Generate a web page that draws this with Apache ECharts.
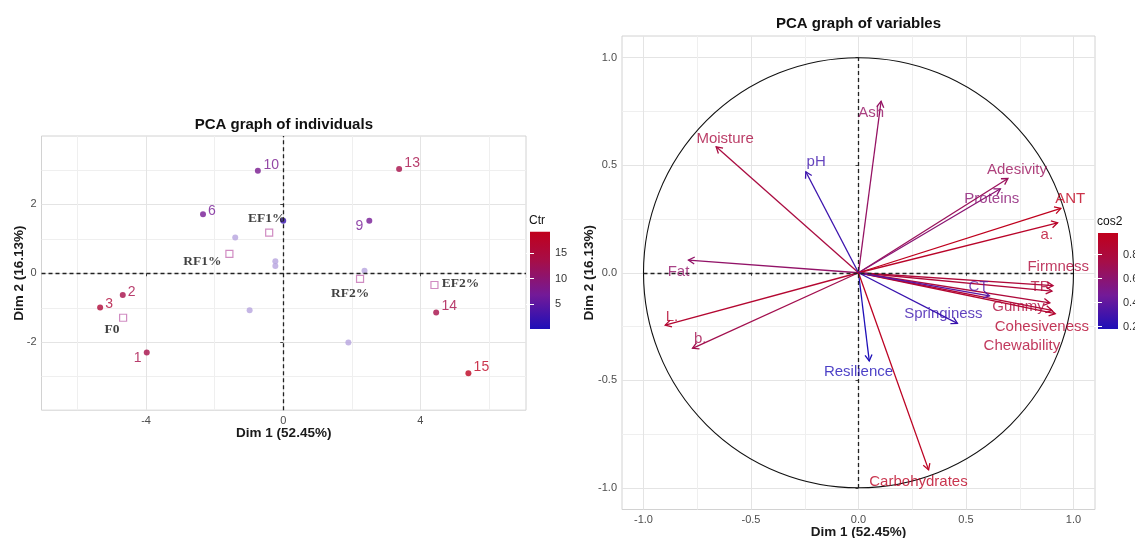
<!DOCTYPE html>
<html>
<head>
<meta charset="utf-8">
<script src="https://cdn.jsdelivr.net/npm/echarts@6/dist/echarts.min.js"></script>
<style>html,body{margin:0;padding:0;background:#fff}#c{width:1135px;height:538px}</style>
</head>
<body>
<div id="c"></div>
<script>
// ---------------- DATA ----------------
// Individuals (labelled, coloured by Ctr)
const indNames = ['1', '2', '3', '6', '9', '10', '13', '14', '15', ''];
const indX = [-3.98, -4.68, -5.34, -2.34, 2.51, -0.74, 3.38, 4.46, 5.40, 0.00];
const indY = [-2.30, -0.63, -0.99, 1.71, 1.52, 2.97, 3.02, -1.14, -2.90, 1.52];
const indCtr = [13.5, 13.5, 15.5, 7, 7, 7.5, 13.5, 13.5, 18.5, 2];
// Individuals drawn faint (no label)
const lightX = [-1.40, -0.23, -0.23, -0.98, 2.37, 1.90];
const lightY = [1.04, 0.35, 0.21, -1.07, 0.07, -2.01];
// Group centroids
const groupNames = ['F0', 'RF1%', 'EF1%', 'RF2%', 'EF2%'];
const groupX = [-4.67, -1.57, -0.41, 2.24, 4.41];
const groupY = [-1.29, 0.56, 1.18, -0.165, -0.34];
// Variables
const varNames = ['Moisture', 'pH', 'Fat', 'Ash', 'Adesivity', 'Proteins', 'ANT', 'a.', 'Firmness', 'TP',
  'Gummy', 'Cohesiveness', 'Chewability', 'CT', 'Springiness', 'Resilience', 'L.', 'b.', 'Carbohydrates'];
const varX = [-0.662, -0.245, -0.791, 0.105, 0.695, 0.660, 0.941, 0.926, 0.905, 0.900,
  0.890, 0.915, 0.900, 0.609, 0.460, 0.050, -0.899, -0.772, 0.326];
const varY = [0.585, 0.469, 0.059, 0.797, 0.438, 0.390, 0.299, 0.232, -0.060, -0.085,
  -0.140, -0.190, -0.175, -0.107, -0.235, -0.410, -0.243, -0.351, -0.916];
const varCos2 = [0.780, 0.280, 0.629, 0.646, 0.675, 0.588, 0.975, 0.911, 0.823, 0.817,
  0.812, 0.873, 0.841, 0.382, 0.267, 0.170, 0.867, 0.719, 0.945];
// Scales / tick labels
const indXTicks = [-4, 0, 4];
const indXMinor = [-6, -2, 2, 6];
const indYTicks = [-2, 0, 2];
const indYMinor = [-3, -1, 1, 3];
const varTicks = [-1, -0.5, 0, 0.5, 1];
const varMinor = [-0.75, -0.25, 0.25, 0.75];
const ctrTicks = [5, 10, 15];
const ctrRange = [0.1, 19.2];
const cosTicks = [0.2, 0.4, 0.6, 0.8];
const cosRange = [0.18, 0.98];
const circleRadius = 1;

// ---------------- LAYOUT / STYLE ----------------
const FONT = 'Liberation Sans, Arial, Helvetica, sans-serif';
const SERIF = 'Liberation Serif, Times New Roman, serif';
const gradStops = [[0, '#1e0fb8'], [0.35, '#731a98'], [0.7, '#a60e48'], [1, '#c0001c']];
function hex2rgb(h) { return [1, 3, 5].map(i => parseInt(h.substr(i, 2), 16)); }
function mix(a, b, t) {
  const A = hex2rgb(a), B = hex2rgb(b);
  return 'rgb(' + A.map((v, k) => Math.round(v + (B[k] - v) * t)).join(',') + ')';
}
function colorAt(v, range) {
  let t = (v - range[0]) / (range[1] - range[0]);
  t = Math.max(0, Math.min(1, t));
  for (let k = 1; k < gradStops.length; k++) {
    if (t <= gradStops[k][0]) {
      const s0 = gradStops[k - 1], s1 = gradStops[k];
      return mix(s0[1], s1[1], (t - s0[0]) / (s1[0] - s0[0]));
    }
  }
  return gradStops[gradStops.length - 1][1];
}
const indLabelOffset = { '1': [-9, 6], '2': [9, -3], '3': [9, -3], '6': [9, -3], '9': [-10, 5],
  '10': [13.5, -6], '13': [13, -6], '14': [13, -6], '15': [13, -6] };
const groupLabelOffset = { 'F0': [-11, 12], 'RF1%': [-27, 8], 'EF1%': [-2.5, -14], 'RF2%': [-10, 15], 'EF2%': [26, -1] };
const varLabelAt = {
  'Moisture': [-0.62, 0.624], 'pH': [-0.197, 0.515], 'Fat': [-0.837, 0.002], 'Ash': [0.059, 0.742],
  'Adesivity': [0.737, 0.48], 'Proteins': [0.62, 0.342], 'ANT': [0.985, 0.342], 'a.': [0.876, 0.178],
  'Firmness': [0.929, 0.028], 'TP': [0.845, -0.065], 'Gummy': [0.744, -0.158], 'Cohesiveness': [0.853, -0.251],
  'Chewability': [0.76, -0.34], 'CT': [0.558, -0.065], 'Springiness': [0.395, -0.193], 'Resilience': [0.0, -0.462],
  'L.': [-0.868, -0.204], 'b.': [-0.736, -0.305], 'Carbohydrates': [0.279, -0.97]
};

const tickLabel = { color: '#4d4d4d', fontSize: 11, fontFamily: FONT, margin: 5 };
const axisName = { fontWeight: 'bold', fontSize: 13.5, color: '#1a1a1a', fontFamily: FONT };
const majorGrid = { show: true, lineStyle: { color: '#e4e4e4', width: 1 } };
const minorGrid = { show: true, lineStyle: { color: '#efefef', width: 1 } };
const dashed = { color: '#222', type: [4, 3], width: 1.3 };

function mainAxis(grid, min, max, ticks, fmt, extra) {
  return Object.assign({
    gridIndex: grid, type: 'value', min: min, max: max,
    axisLine: { show: false },
    axisTick: { show: true, customValues: ticks, length: 3, lineStyle: { color: '#444' } },
    axisLabel: Object.assign({ customValues: ticks, formatter: fmt }, tickLabel),
    splitLine: majorGrid,
    nameMoveOverlap: false
  }, extra);
}
function minorAxis(grid, min, max, ticks, pos) {
  return {
    gridIndex: grid, type: 'value', min: min, max: max, position: pos,
    axisLine: { show: false }, axisTick: { show: false, customValues: ticks },
    axisLabel: { show: false }, splitLine: minorGrid
  };
}
function barAxis(grid, range, ticks, pos, labels, fmt) {
  return {
    gridIndex: grid, type: 'value', min: range[0], max: range[1], position: pos, z: 10,
    axisLine: { show: false },
    axisTick: { show: true, inside: true, length: 4, customValues: ticks, lineStyle: { color: '#fff', width: 1 } },
    axisLabel: { show: labels, customValues: ticks, formatter: fmt, color: '#333', fontSize: 11, fontFamily: FONT, margin: 5 },
    splitLine: { show: false }
  };
}
function barSeries(xi, yi, range) {
  return {
    type: 'custom', xAxisIndex: xi, yAxisIndex: yi, silent: true, z: 1,
    data: [[0, range[0], 1, range[1]]],
    renderItem: function (p, api) {
      const a = api.coord([api.value(0), api.value(1)]);
      const b = api.coord([api.value(2), api.value(3)]);
      return {
        type: 'rect',
        shape: { x: a[0], y: b[1], width: b[0] - a[0], height: a[1] - b[1] },
        style: { fill: new echarts.graphic.LinearGradient(0, 1, 0, 0,
          gradStops.map(s => ({ offset: s[0], color: s[1] }))) }
      };
    }
  };
}
const fmt1 = v => (Math.round(v * 10) / 10).toFixed(1);
const fmt0 = v => String(Math.round(v));
const gridBase = { outerBoundsMode: 'none', containLabel: false };

const chart = echarts.init(document.getElementById('c'), null, { renderer: 'canvas' });
const option = {
  animation: false,
  backgroundColor: '#ffffff',
  textStyle: { fontFamily: FONT },
  title: [
    { text: 'PCA graph of individuals', left: 283.8, top: 117, textAlign: 'center', padding: 0,
      textStyle: { fontSize: 15, fontWeight: 'bold', color: '#111', fontFamily: FONT } },
    { text: 'PCA graph of variables', left: 858.5, top: 16, textAlign: 'center', padding: 0,
      textStyle: { fontSize: 15, fontWeight: 'bold', color: '#111', fontFamily: FONT } },
    { text: 'Ctr', left: 529, top: 214.5, padding: 0, textStyle: { fontSize: 12, fontWeight: 'normal', color: '#111', fontFamily: FONT } },
    { text: 'cos2', left: 1097, top: 216, padding: 0, textStyle: { fontSize: 12, fontWeight: 'normal', color: '#111', fontFamily: FONT } }
  ],
  grid: [
    Object.assign({ left: 41.5, top: 136, width: 484.5, height: 274.2, show: true, borderColor: '#d2d2d2', borderWidth: 1, backgroundColor: 'transparent' }, gridBase),
    Object.assign({ left: 530, top: 231.7, width: 20, height: 97.3, show: false }, gridBase),
    Object.assign({ left: 622, top: 36, width: 473, height: 473.5, show: true, borderColor: '#d2d2d2', borderWidth: 1, backgroundColor: 'transparent' }, gridBase),
    Object.assign({ left: 1098, top: 233, width: 20, height: 96, show: false }, gridBase)
  ],
  xAxis: [
    mainAxis(0, -7.05, 7.08, indXTicks, fmt0, { position: 'bottom', name: 'Dim 1 (52.45%)', nameLocation: 'middle', nameGap: 16, nameTextStyle: axisName }),
    minorAxis(0, -7.05, 7.08, indXMinor, 'bottom'),
    { gridIndex: 1, type: 'value', min: 0, max: 1, show: false },
    mainAxis(2, -1.1, 1.1, varTicks, fmt1, { position: 'bottom', name: 'Dim 1 (52.45%)', nameLocation: 'middle', nameGap: 15.5, nameTextStyle: axisName }),
    minorAxis(2, -1.1, 1.1, varMinor, 'bottom'),
    { gridIndex: 3, type: 'value', min: 0, max: 1, show: false }
  ],
  yAxis: [
    mainAxis(0, -3.97, 3.98, indYTicks, fmt0, { position: 'left', name: 'Dim 2 (16.13%)', nameLocation: 'middle', nameGap: 15.5, nameTextStyle: axisName }),
    minorAxis(0, -3.97, 3.98, indYMinor, 'left'),
    barAxis(1, ctrRange, ctrTicks, 'right', true, fmt0),
    barAxis(1, ctrRange, ctrTicks, 'left', false, fmt0),
    mainAxis(2, -1.1, 1.1, varTicks, fmt1, { position: 'left', name: 'Dim 2 (16.13%)', nameLocation: 'middle', nameGap: 26, nameTextStyle: axisName }),
    minorAxis(2, -1.1, 1.1, varMinor, 'left'),
    barAxis(3, cosRange, cosTicks, 'right', true, fmt1),
    barAxis(3, cosRange, cosTicks, 'left', false, fmt1)
  ],
  series: [
    // faint individuals + zero lines
    {
      type: 'scatter', xAxisIndex: 0, yAxisIndex: 0, z: 2,
      data: lightX.map((x, i) => [x, lightY[i]]),
      symbolSize: 6, itemStyle: { color: '#b6a4de' },
      markLine: { silent: true, symbol: 'none', label: { show: false }, lineStyle: dashed,
        data: [{ xAxis: 0 }, { yAxis: 0 }] }
    },
    // group centroids (open squares) with their labels
    {
      type: 'scatter', xAxisIndex: 0, yAxisIndex: 0, z: 4,
      symbol: 'rect', symbolSize: 7,
      itemStyle: { color: 'rgba(255,255,255,0)', borderColor: '#c46fb3', borderWidth: 1.2 },
      data: groupNames.map((n, i) => ({
        name: n, value: [groupX[i], groupY[i]],
        label: { show: true, position: 'inside', offset: groupLabelOffset[n], formatter: n,
          fontFamily: SERIF, fontWeight: 'bold', fontSize: 13.5, color: '#111' }
      }))
    },
    // labelled individuals
    {
      type: 'scatter', xAxisIndex: 0, yAxisIndex: 0, z: 3,
      symbolSize: 6,
      data: indNames.map((n, i) => {
        const col = colorAt(indCtr[i], ctrRange);
        return {
          name: n, value: [indX[i], indY[i], indCtr[i]],
          itemStyle: { color: col },
          label: { show: n !== '', position: 'inside', offset: indLabelOffset[n] || [0, 0], formatter: n,
            fontSize: 14, color: col, fontFamily: FONT }
        };
      })
    },
    // correlation circle
    {
      type: 'custom', xAxisIndex: 3, yAxisIndex: 4, silent: true, z: 2,
      data: [[0, 0, circleRadius]],
      renderItem: function (p, api) {
        const c = api.coord([api.value(0), api.value(1)]);
        const e = api.coord([api.value(0) + api.value(2), api.value(1)]);
        return { type: 'circle', shape: { cx: c[0], cy: c[1], r: e[0] - c[0] },
          style: { fill: 'none', stroke: '#111', lineWidth: 1.1 } };
      }
    },
    // variable arrows
    {
      type: 'custom', xAxisIndex: 3, yAxisIndex: 4, silent: true, z: 4,
      data: varX.map((x, i) => [x, varY[i], varCos2[i]]),
      renderItem: function (p, api) {
        const o = api.coord([0, 0]);
        const t = api.coord([api.value(0), api.value(1)]);
        const col = colorAt(api.value(2), cosRange);
        const ang = Math.atan2(t[1] - o[1], t[0] - o[0]);
        const L = 7, a = Math.PI / 6;
        const p1 = [t[0] - L * Math.cos(ang - a), t[1] - L * Math.sin(ang - a)];
        const p2 = [t[0] - L * Math.cos(ang + a), t[1] - L * Math.sin(ang + a)];
        return { type: 'group', children: [
          { type: 'line', shape: { x1: o[0], y1: o[1], x2: t[0], y2: t[1] }, style: { stroke: col, lineWidth: 1.3 } },
          { type: 'polyline', shape: { points: [p1, t, p2] }, style: { stroke: col, fill: 'none', lineWidth: 1.3 } }
        ] };
      }
    },
    // variable labels + zero lines
    {
      type: 'scatter', xAxisIndex: 3, yAxisIndex: 4, z: 5, silent: true,
      symbolSize: 1, itemStyle: { color: 'rgba(0,0,0,0)' },
      data: varNames.map((n, i) => ({
        name: n, value: varLabelAt[n],
        label: { show: true, position: 'inside', formatter: n, fontSize: 15, fontFamily: FONT,
          color: colorAt(varCos2[i], cosRange) }
      })),
      markLine: { silent: true, symbol: 'none', label: { show: false }, lineStyle: dashed,
        data: [
          [{ coord: [-circleRadius, 0] }, { coord: [circleRadius, 0] }],
          [{ coord: [0, -circleRadius] }, { coord: [0, circleRadius] }]
        ] }
    },
    barSeries(2, 2, ctrRange),
    barSeries(5, 6, cosRange)
  ]
};
chart.setOption(option);
</script>
</body>
</html>
